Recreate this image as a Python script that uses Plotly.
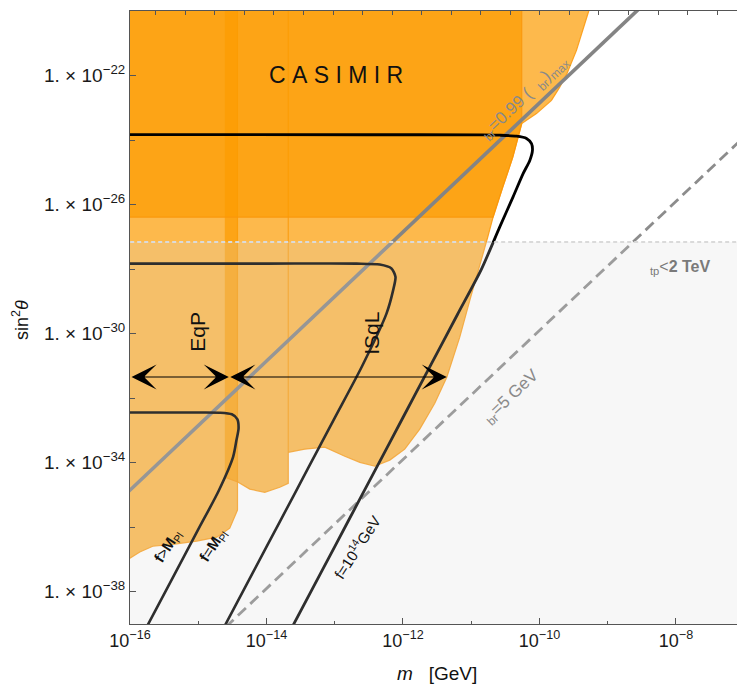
import plotly.graph_objects as go

# ---------------- data (log10 values) ----------------
x_range = [-16.0, -7.106]          # log10(m / GeV)
y_range = [-39.0, -20.0]           # log10(sin^2 theta)

x_major_ticks = [-16, -14, -12, -10, -8]
x_minor_ticks = [-15, -13, -11, -9]
x_tick_labels = ["10<sup>−16</sup>", "10<sup>−14</sup>", "10<sup>−12</sup>",
                 "10<sup>−10</sup>", "10<sup>−8</sup>"]
y_major_ticks = [-38, -34, -30, -26, -22]
y_minor_ticks = [-36, -32, -28, -24]
y_tick_labels = ["1. × 10<sup>−38</sup>", "1. × 10<sup>−34</sup>", "1. × 10<sup>−30</sup>",
                 "1. × 10<sup>−26</sup>", "1. × 10<sup>−22</sup>"]

# excluded regions (log10 m, log10 sin^2)
eqp_x = [-16.1, -14.425, -14.425, -14.538, -14.728, -15.021, -15.373, -15.666, -15.856, -16.0, -16.1]
eqp_y = [-19.9, -19.9, -35.47, -36.03, -36.31, -36.43, -36.53, -36.59, -36.77, -36.96, -37.0]

isql1_x = [-14.611, -13.681, -13.681, -13.805, -14.025, -14.245, -14.421, -14.611]
isql1_y = [-19.9, -19.9, -34.64, -34.76, -34.92, -34.82, -34.60, -34.45]

isql2_x = [-13.681, -9.25, -9.278, -9.361, -9.458, -9.596, -9.703, -9.824, -10.044, -10.26,
           -10.391, -10.538, -10.680, -10.758, -10.875, -11.021, -11.168, -11.358, -11.534,
           -11.754, -11.974, -12.193, -12.413, -12.633, -12.853, -13.146, -13.439, -13.681]
isql2_y = [-19.9, -19.9, -20.0, -20.60, -21.22, -21.94, -22.36, -22.77, -23.18, -23.49,
           -24.53, -25.46, -26.39, -27.01, -27.85, -28.97, -30.11, -31.35, -32.16,
           -32.96, -33.58, -33.92, -34.11, -33.99, -33.80, -33.52, -33.58, -33.68]

casimir_x = [-16.1, -10.26, -10.26, -10.391, -10.538, -10.680, -16.1]
casimir_y = [-19.9, -19.9, -23.49, -24.53, -25.46, -26.39, -26.39]

tp_region_x = [-16.1, -7.0, -7.0, -16.1]
tp_region_y = [-27.158, -27.158, -39.1, -39.1]

# reference lines
lbr_max_x = [-16.1, -8.5]
lbr_max_y = [-35.05, -19.85]
lbr5_x = [-14.6, -7.0]
lbr5_y = [-39.1, -23.9]

# f contours
f_gt_x = [-15.78, -15.4, -15.0, -14.7, -14.489, -14.440, -14.409, -14.428, -14.508, -14.684, -15.2, -16.1]
f_gt_y = [-39.19, -37.67, -36.07, -34.87, -33.82, -33.30, -32.93, -32.65, -32.50, -32.45, -32.446, -32.445]
f_mpl_x = [-14.62, -14.2, -13.8, -13.4, -13.0, -12.6, -12.242, -12.145, -12.110, -12.169,
           -12.340, -12.681, -14.0, -16.1]
f_mpl_y = [-39.09, -37.41, -35.81, -34.21, -32.61, -31.01, -29.38, -28.66, -28.24, -27.98,
           -27.86, -27.83, -27.83, -27.83]
f_14_x = [-13.65, -13.2, -12.8, -12.4, -12.0, -11.6, -11.2, -10.85, -10.582, -10.387, -10.240,
          -10.142, -10.103, -10.117, -10.190, -10.337, -10.582, -10.826, -12.5, -16.1]
f_14_y = [-39.2, -37.4, -35.8, -34.2, -32.6, -31.0, -29.4, -28.0, -26.69, -25.76, -25.04,
          -24.63, -24.32, -24.11, -23.95, -23.88, -23.85, -23.84, -23.835, -23.83]

# arrows
arrow_y = -31.342
eqp_arrow_x = [-16.0, -14.552]
isql_arrow_x = [-14.552, -11.358]

# ---------------- figure ----------------
ORANGE_FILL = "rgba(252,155,0,0.70)"
ORANGE_EDGE = "rgba(250,150,10,0.85)"
FONT = "Liberation Sans, Arial, sans-serif"


def P(v):
    return [10 ** a for a in v]


fig = go.Figure()

for xs, ys in [(eqp_x, eqp_y), (isql1_x, isql1_y), (isql2_x, isql2_y), (casimir_x, casimir_y)]:
    fig.add_trace(go.Scatter(x=P(xs), y=P(ys), mode="lines", fill="toself",
                             fillcolor=ORANGE_FILL, line=dict(color=ORANGE_EDGE, width=1.2),
                             hoverinfo="skip", showlegend=False))

fig.add_trace(go.Scatter(x=P(lbr5_x), y=P(lbr5_y), mode="lines",
                         line=dict(color="#8c8c8c", width=2.8, dash="11px,6px"),
                         hoverinfo="skip", showlegend=False))
fig.add_trace(go.Scatter(x=P(lbr_max_x), y=P(lbr_max_y), mode="lines",
                         line=dict(color="#848484", width=3.6),
                         hoverinfo="skip", showlegend=False))

for xs, ys, w in [(f_gt_x, f_gt_y, 2.6), (f_mpl_x, f_mpl_y, 2.6), (f_14_x, f_14_y, 2.8)]:
    fig.add_trace(go.Scatter(x=P(xs), y=P(ys), mode="lines",
                             line=dict(color="black", width=w, shape="spline", smoothing=0.7),
                             hoverinfo="skip", showlegend=False))

# lambda_tp < 2 TeV shaded overlay
fig.add_trace(go.Scatter(x=P(tp_region_x), y=P(tp_region_y), mode="lines", fill="toself",
                         fillcolor="rgba(215,215,215,0.21)", line=dict(width=0),
                         hoverinfo="skip", showlegend=False))
fig.add_trace(go.Scatter(x=P([x_range[0] - 0.1, x_range[1] + 0.1]), y=P([tp_region_y[0]] * 2),
                         mode="lines", line=dict(color="#dadada", width=2, dash="4px,3px"),
                         hoverinfo="skip", showlegend=False))

# dummy trace for the top frame axis
fig.add_trace(go.Scatter(x=[None], y=[None], xaxis="x2", yaxis="y", mode="lines",
                         hoverinfo="skip", showlegend=False))

ann = []
for xs in (eqp_arrow_x, isql_arrow_x):
    ann.append(dict(x=xs[1], y=arrow_y, ax=xs[0], ay=arrow_y, xref="x", yref="y",
                    axref="x", ayref="y", text="", showarrow=True, arrowside="end+start",
                    arrowhead=3, startarrowhead=3, arrowsize=3.8, startarrowsize=3.8,
                    arrowwidth=1.1, arrowcolor="black", standoff=0, startstandoff=0))


def T(x, y, text, size, color="#111", angle=0, **kw):
    d = dict(x=x, y=y, xref="x", yref="y", text=text, showarrow=False, textangle=angle,
             font=dict(family=FONT, size=size, color=color), xanchor="center", yanchor="middle")
    d.update(kw)
    ann.append(d)


T(-12.985, -21.99, "C\u00a0A\u00a0S\u00a0I\u00a0M\u00a0I\u00a0R", 23)
T(-15.004, -29.94, "EqP", 21, angle=-90)
T(-12.462, -29.99, "ISqL", 21, angle=-90)
T(-10.215, -22.705, "<sub>br</sub>=0.99 (\u00a0\u00a0<sub>br</sub>)<sub>max</sub>", 17,
  color="#8a8a8a", angle=-43.4)
T(-10.41, -31.96, "<sub>br</sub>=5 GeV", 17, color="#8a8a8a", angle=-43.4)
T(-7.93, -27.95, "<sub>tp</sub><<b>2 TeV</b>", 16, color="#7a7a7a")
T(-15.446, -36.59, "<b>f</b>><b>M</b><sub>Pl</sub>", 15, color="#111", angle=-57)
T(-14.782, -36.557, "<b>f</b>=<b>M</b><sub>Pl</sub>", 15, color="#111", angle=-57)
T(-12.681, -36.61, "f=10<sup>14</sup>GeV", 15, color="#111", angle=-57)

ann.append(dict(x=-0.1796, y=0.496, xref="paper", yref="paper", text="sin<sup>2</sup><i>θ</i>",
                showarrow=False, textangle=-90, font=dict(family=FONT, size=18, color="#111"),
                xanchor="center", yanchor="middle"))
ann.append(dict(x=0.5054, y=-0.081, xref="paper", yref="paper",
                text="<i>m</i>\u00a0\u00a0\u00a0[GeV]", showarrow=False,
                font=dict(family=FONT, size=19, color="#111"), xanchor="center", yanchor="middle"))

axis_common = dict(showgrid=False, zeroline=False, showline=True, linecolor="#555",
                   linewidth=1, ticks="inside", tickcolor="#555", tickwidth=1)

fig.update_layout(
    width=737, height=684,
    margin=dict(l=130, r=0, t=11, b=60),
    paper_bgcolor="white", plot_bgcolor="white", showlegend=False,
    font=dict(family=FONT, size=17, color="#1a1a1a"),
    xaxis=dict(type="log", range=x_range, tickmode="array",
               tickvals=P(x_major_ticks), ticktext=x_tick_labels, ticklen=6,
               tickfont=dict(size=18), mirror=False,
               minor=dict(tickmode="array", tickvals=P(x_minor_ticks), ticks="inside",
                          ticklen=3, tickcolor="#555", showgrid=False),
               **axis_common),
    yaxis=dict(type="log", range=y_range, tickmode="array",
               tickvals=P(y_major_ticks), ticktext=y_tick_labels, ticklen=6,
               tickfont=dict(size=19), mirror=False,
               minor=dict(tickmode="array", tickvals=P(y_minor_ticks), ticks="inside",
                          ticklen=5, tickcolor="#555", showgrid=False),
               **axis_common),
    xaxis2=dict(overlaying="x", side="top", anchor="y", range=[-0.87, 19.67],
                tickmode="linear", tick0=0, dtick=1, ticklen=4, showticklabels=False,
                **axis_common),
    annotations=ann,
)

fig.write_html("out.html")
